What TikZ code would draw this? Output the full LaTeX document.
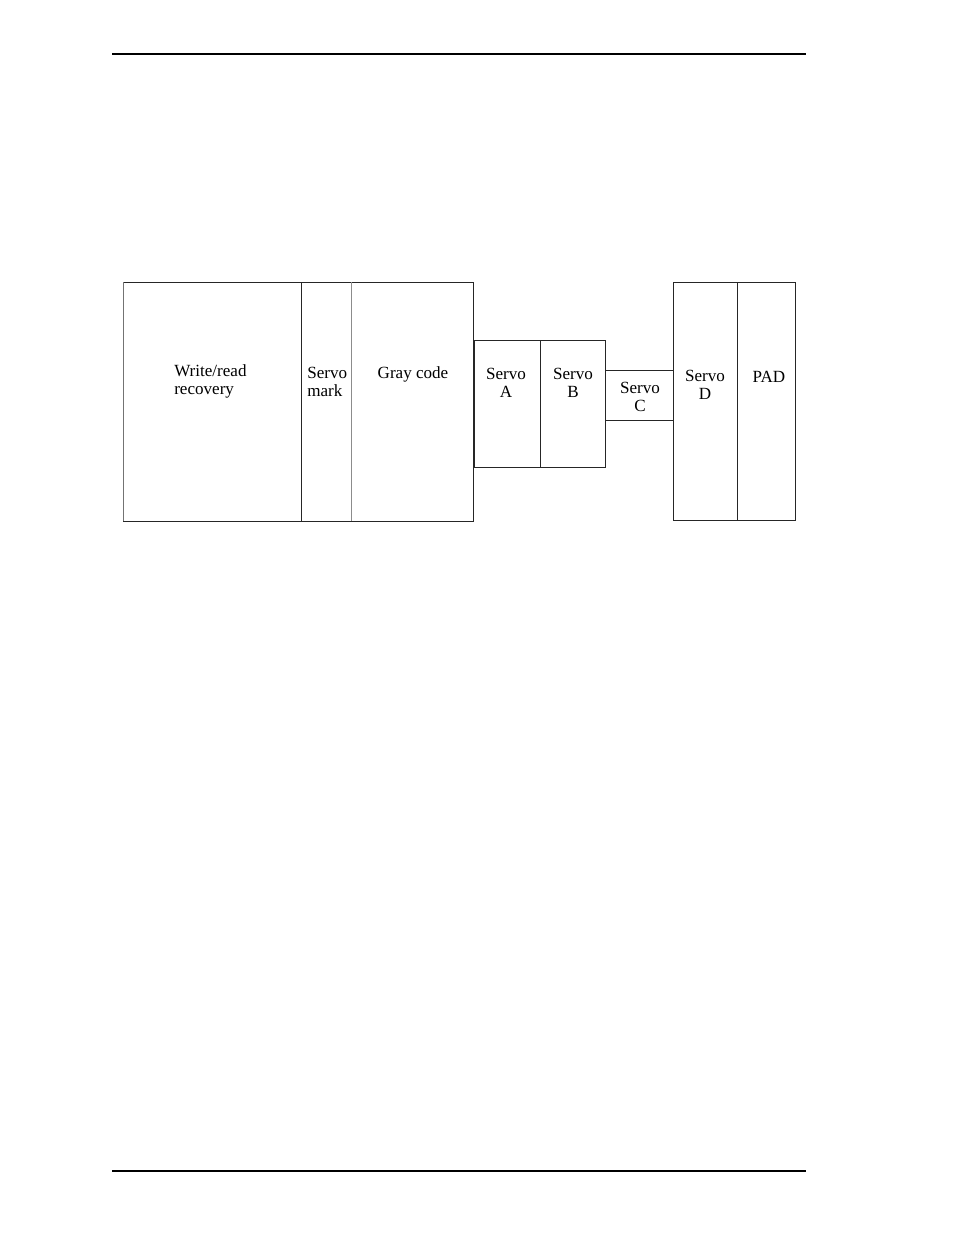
\documentclass[tikz,border=0pt]{standalone}
\usepackage{fontspec}
\setmainfont{Liberation Serif}
\begin{document}
\begin{tikzpicture}[x=0.75pt,y=-0.75pt,
  box/.style={draw=black!85,line width=0.7pt},
  lbl/.style={inner sep=0pt,font=\fontsize{12.8}{13.6}\selectfont}]
\useasboundingbox (0,0) rectangle (954,1235);
% rules
\draw[line width=1.1pt] (112,54) -- (806,54);
\draw[line width=1.9pt] (112,1171) -- (806,1171);
% left block
\draw[box] (123,282) rectangle (473,521);
\draw[draw=black!55,line width=0.7pt] (123,282) -- (123,521);
\draw[box] (301,282) -- (301,521);
\draw[draw=black!45,line width=0.7pt] (351,282) -- (351,521);
% servo A/B
\draw[box] (474,340) rectangle (605,467);
\draw[box] (540,340) -- (540,467);
% servo C
\draw[box] (605,370) rectangle (673,420);
% servo D / PAD
\draw[box] (673,282) rectangle (795,520);
\draw[box] (737,282) -- (737,520);
% labels
\node[lbl,align=left,anchor=west] (wr) at (174,381.5) {Write/read\\recovery};
\node[lbl,align=left,anchor=west] (sm) at (307,382) {Servo\\mark};
\node[lbl] (gc) at (413,374.5) {Gray code};
\node[lbl,align=center] (sa) at (506,383) {Servo\\A};
\node[lbl,align=center] (sb) at (573,383) {Servo\\B};
\node[lbl,align=center] (sc) at (640,396.5) {Servo\\C};
\node[lbl,align=center] (sd) at (705,385) {Servo\\D};
\node[lbl] (pad) at (769,376.5) {PAD};
\end{tikzpicture}
\end{document}
